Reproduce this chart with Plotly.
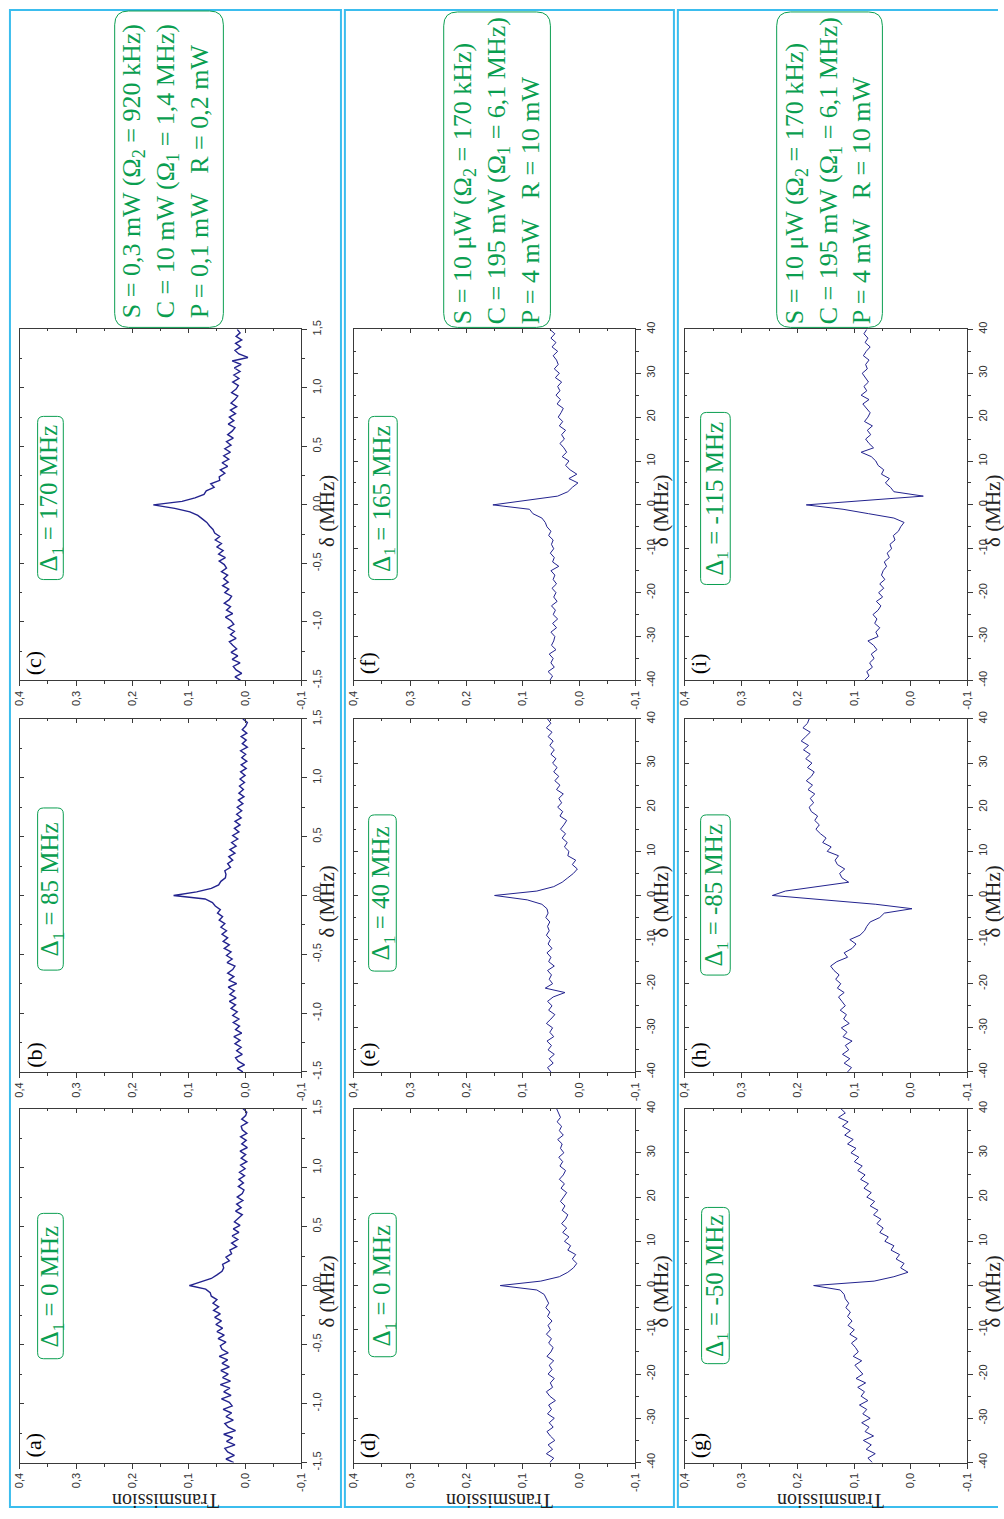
import plotly.graph_objects as go

W, H = 1004, 1519

# detuning sampling: narrow panels -1.5..1.5 MHz (step 0.03), wide panels -40..40 MHz (step 1)
delta_narrow_start, delta_narrow_step = -1.5, 0.03
delta_wide_start, delta_wide_step = -40, 1

# transmission
trans_a = [0.020, 0.034, 0.019, 0.031, 0.036, 0.018, 0.033, 0.022, 0.038, 0.017, 0.030, 0.036, 0.021, 0.034, 0.024, 0.039, 0.023,
           0.028, 0.042, 0.025, 0.038, 0.027, 0.044, 0.026, 0.040, 0.030, 0.043, 0.028, 0.041, 0.031, 0.046, 0.030, 0.041,
           0.044, 0.034, 0.048, 0.037, 0.050, 0.040, 0.052, 0.042, 0.054, 0.044, 0.056, 0.047,
           0.057, 0.050, 0.060, 0.062, 0.070, 0.099,
           0.078, 0.060, 0.050, 0.041, 0.038, 0.040, 0.028, 0.034, 0.024,
           0.027, 0.015, 0.024, 0.013, 0.023, 0.011, 0.021, 0.009, 0.019, 0.012, 0.005, 0.017, 0.007, 0.015, 0.004, 0.014,
           0.005, 0.002, 0.012, 0.003, 0.011, 0.001, 0.010, 0.000,
           0.008, -0.003, 0.007, -0.001, 0.009, -0.004, 0.006, -0.002, 0.008, -0.003, 0.005, 0.007, -0.004, 0.006, -0.001, -0.003, 0.004]
trans_b = [0.004, 0.014, 0.001, 0.012, 0.017, 0.005, 0.015, 0.007, 0.018, 0.009, 0.020, 0.006, 0.017, 0.010, 0.021, 0.011, 0.022,
           0.014, 0.025, 0.017, 0.028, 0.016, 0.027, 0.019, 0.030, 0.015, 0.029, 0.020, 0.031, 0.022, 0.018, 0.032, 0.023,
           0.033, 0.025, 0.037, 0.028, 0.039, 0.031, 0.041, 0.033, 0.043, 0.036, 0.046, 0.040,
           0.049, 0.044, 0.053, 0.058, 0.071, 0.127,
           0.086, 0.060, 0.047, 0.043, 0.035, 0.034, 0.036, 0.026, 0.031,
           0.022, 0.029, 0.018, 0.027, 0.016, 0.024, 0.013, 0.022, 0.011, 0.019, 0.009, 0.018, 0.007, 0.015, 0.006, 0.014,
           0.004, 0.012, 0.002, 0.011, 0.003, 0.010, 0.001, 0.009,
           0.000, 0.008, -0.002, 0.007, -0.003, 0.006, -0.001, 0.008, -0.004, 0.005, -0.002, 0.007, -0.003, 0.005, -0.001, -0.004, 0.004]
trans_c = [0.008, 0.018, 0.006, 0.016, 0.021, 0.009, 0.023, 0.013, 0.025, 0.015, 0.022, 0.028, 0.016, 0.026, 0.019, 0.030, 0.020,
           0.025, 0.035, 0.022, 0.033, 0.026, 0.037, 0.028, 0.024, 0.036, 0.029, 0.040, 0.030, 0.038, 0.031, 0.042, 0.033,
           0.037, 0.046, 0.035, 0.047, 0.039, 0.050, 0.042, 0.053, 0.045,
           0.054, 0.057, 0.063, 0.068, 0.076, 0.084, 0.098, 0.125, 0.163,
           0.112, 0.089, 0.073, 0.069, 0.055, 0.061, 0.045, 0.046,
           0.036, 0.044, 0.031, 0.041, 0.029, 0.038, 0.026, 0.036,
           0.025, 0.033, 0.021, 0.031, 0.023, 0.018, 0.030, 0.020, 0.028, 0.017, 0.026, 0.015, 0.025, 0.018, 0.013, 0.024, 0.016,
           0.012, 0.022, 0.011, 0.020, 0.009, 0.019, 0.007, 0.023, -0.005, 0.011, 0.018, 0.008, 0.017, 0.006, 0.016, 0.009, 0.014]
trans_d = [0.052, 0.045, 0.058, 0.047, 0.055, 0.043, 0.051, 0.057, 0.046, 0.053, 0.044, 0.056, 0.049, 0.054, 0.042, 0.052,
           0.058, 0.047, 0.051, 0.044, 0.055, 0.048, 0.053, 0.045, 0.057, 0.050, 0.046, 0.054, 0.049, 0.058, 0.051, 0.055,
           0.048, 0.056, 0.052, 0.059, 0.054,
           0.058, 0.062, 0.075, 0.140, 0.068, 0.035, 0.020, 0.010, 0.004, 0.012, 0.006, 0.020, 0.015,
           0.026, 0.018, 0.029, 0.022, 0.031, 0.024, 0.020, 0.030, 0.025, 0.033, 0.027, 0.022, 0.032, 0.026, 0.035, 0.028,
           0.024, 0.034, 0.029, 0.036, 0.027, 0.033, 0.030, 0.038, 0.028, 0.035, 0.031, 0.039, 0.033, 0.036, 0.040]
trans_e = [0.050, 0.056, 0.046, 0.053, 0.044, 0.055, 0.049, 0.057, 0.045, 0.052, 0.047, 0.058, 0.050, 0.043, 0.054, 0.048,
           0.056, 0.046, 0.025, 0.060, 0.047, 0.053, 0.049, 0.056, 0.044, 0.054, 0.050, 0.057, 0.048, 0.055, 0.051, 0.058,
           0.053, 0.056, 0.052, 0.059, 0.055,
           0.057, 0.066, 0.092, 0.150, 0.075, 0.045, 0.030, 0.020, 0.010, 0.003, 0.012, 0.006, 0.020,
           0.018, 0.026, 0.021, 0.030, 0.024, 0.033, 0.027, 0.022, 0.034, 0.029, 0.038, 0.031, 0.036, 0.028, 0.040, 0.034,
           0.043, 0.036, 0.045, 0.039, 0.047, 0.041, 0.050, 0.044, 0.052, 0.046, 0.055, 0.048, 0.058, 0.050, 0.056]
trans_f = [0.052, 0.047, 0.055, 0.044, 0.050, 0.046, 0.053, 0.041, 0.049, 0.045, 0.043, 0.050, 0.040, 0.047, 0.038, 0.046,
           0.042, 0.049, 0.039, 0.045, 0.041, 0.048, 0.040, 0.046, 0.043, 0.050, 0.036, 0.047, 0.044, 0.051, 0.045, 0.049,
           0.046, 0.054, 0.050, 0.057, 0.060,
           0.066, 0.082, 0.088, 0.153, 0.095, 0.038, 0.020, 0.012, 0.002, 0.018, 0.004, 0.016, 0.024,
           0.018, 0.030, 0.022, 0.027, 0.034, 0.026, 0.031, 0.024, 0.035, 0.029, 0.037, 0.032, 0.028, 0.039, 0.033, 0.041,
           0.034, 0.038, 0.031, 0.042, 0.035, 0.044, 0.037, 0.040, 0.046, 0.038, 0.048, 0.041, 0.050, 0.043, 0.052]
trans_g = [0.068, 0.076, 0.063, 0.079, 0.070, 0.084, 0.066, 0.081, 0.074, 0.087, 0.072, 0.085, 0.078, 0.091, 0.076, 0.088,
           0.082, 0.094, 0.080, 0.097, 0.085, 0.092, 0.099, 0.087, 0.102, 0.093, 0.098, 0.105, 0.095, 0.108, 0.100, 0.111,
           0.104, 0.112, 0.107, 0.115, 0.110,
           0.116, 0.118, 0.125, 0.172, 0.065, 0.030, 0.005, 0.018, 0.012, 0.026, 0.020, 0.035, 0.030,
           0.046, 0.040, 0.055, 0.049, 0.060, 0.053, 0.066, 0.058, 0.072, 0.064, 0.078, 0.070, 0.083, 0.075, 0.089, 0.081,
           0.094, 0.086, 0.100, 0.092, 0.106, 0.097, 0.112, 0.102, 0.117, 0.107, 0.121, 0.111, 0.128, 0.116, 0.124]
trans_h = [0.112, 0.105, 0.118, 0.108, 0.121, 0.110, 0.116, 0.104, 0.120, 0.113, 0.123, 0.109, 0.119, 0.114, 0.125, 0.116,
           0.122, 0.128, 0.118, 0.130, 0.124, 0.133, 0.127, 0.136, 0.142, 0.131, 0.112, 0.118, 0.104, 0.097, 0.108, 0.090,
           0.082, 0.078, 0.072, 0.055, 0.047,
           -0.002, 0.062, 0.158, 0.245, 0.222, 0.163, 0.110, 0.122, 0.126, 0.117, 0.130, 0.134, 0.128,
           0.148, 0.141, 0.156, 0.150, 0.160, 0.168, 0.162, 0.170, 0.165, 0.176, 0.180, 0.172, 0.178, 0.170, 0.182, 0.174,
           0.185, 0.176, 0.171, 0.183, 0.175, 0.186, 0.178, 0.190, 0.181, 0.194, 0.186, 0.178, 0.191, 0.183, 0.180]
trans_i = [0.082, 0.074, 0.078, 0.068, 0.073, 0.065, 0.070, 0.060, 0.066, 0.076, 0.058, 0.062, 0.055, 0.064, 0.060, 0.067,
           0.058, 0.053, 0.061, 0.050, 0.057, 0.048, 0.055, 0.046, 0.052, 0.049, 0.043, 0.047, 0.038, 0.042, 0.034, 0.037,
           0.028, 0.031, 0.022,
           0.018, 0.012, 0.030, 0.075, 0.120, 0.185, 0.080, -0.022, 0.030, 0.036, 0.045, 0.038, 0.052, 0.048, 0.058,
           0.062, 0.070, 0.088, 0.066, 0.074, 0.080, 0.071, 0.077, 0.068, 0.082, 0.076, 0.072, 0.079, 0.085, 0.074, 0.088,
           0.078, 0.083, 0.075, 0.081, 0.086, 0.077, 0.080, 0.074, 0.084, 0.079, 0.072, 0.081, 0.076, 0.083, 0.078]

panel_names = ["(a)", "(b)", "(c)", "(d)", "(e)", "(f)", "(g)", "(h)", "(i)"]
detunings = ["0", "85", "170", "0", "40", "165", "-50", "-85", "-115"]
series = [trans_a, trans_b, trans_c, trans_d, trans_e, trans_f, trans_g, trans_h, trans_i]

params = [
    "S = 0,3 mW (Ω<sub>2</sub> = 920 kHz)<br>C = 10 mW (Ω<sub>1</sub> = 1,4 MHz)<br>P = 0,1 mW\u00a0\u00a0\u00a0R = 0,2 mW",
    "S = 10 μW (Ω<sub>2</sub> = 170 kHz)<br>C = 195 mW (Ω<sub>1</sub> = 6,1 MHz)<br>P = 4 mW\u00a0\u00a0\u00a0R = 10 mW",
    "S = 10 μW (Ω<sub>2</sub> = 170 kHz)<br>C = 195 mW (Ω<sub>1</sub> = 6,1 MHz)<br>P = 4 mW\u00a0\u00a0\u00a0R = 10 mW",
]

trans_ticks = [0.4, 0.3, 0.2, 0.1, 0.0, -0.1]
trans_ticktext = ["0,4", "0,3", "0,2", "0,1", "0,0", "-0,1"]
trans_minor = [0.35, 0.25, 0.15, 0.05, -0.05]
narrow_ticks = [-1.5, -1.0, -0.5, 0.0, 0.5, 1.0, 1.5]
narrow_ticktext = ["-1,5", "-1,0", "-0,5", "0,0", "0,5", "1,0", "1,5"]
narrow_minor = [-1.25, -0.75, -0.25, 0.25, 0.75, 1.25]
wide_ticks = [-40, -30, -20, -10, 0, 10, 20, 30, 40]
wide_ticktext = ["-40", "-30", "-20", "-10", "0", "10", "20", "30", "40"]
wide_minor = [-35, -25, -15, -5, 5, 15, 25, 35]

TRACE = "#23238e"
GREEN = "#0a9e50"
FRAME = "#3bbdee"
AX = "#3a3a3a"
SERIF = "Liberation Serif"
TICKFONT = dict(family="Liberation Sans", size=11, color="#333333")

# page geometry in pixels (left, right) / (top, bottom)
bands_px = [(14, 299), (352, 637), (687, 973)]
rows_px = [(1112, 1470), (718, 1075), (324, 679)]  # bottom, middle, top
# rounded label boxes: x0, x1, y0, y1 in pixels
delta_boxes = [(32, 58, 1218, 1365), (32, 58, 808, 972), (32, 58, 412, 577),
               (367, 395, 1218, 1363), (367, 395, 815, 973), (367, 396, 412, 577),
               (704, 732, 1212, 1370), (703, 733, 815, 977), (703, 733, 408, 582)]
param_boxes = [(110, 220, 2, 322), (443, 551, 3, 322), (780, 887, 3, 322)]
param_text_x = [161, 496, 832]
band_frames = [(4, 339), (343, 676), (680, 1004)]


def fx(px):
    return px / W


def fy(py):
    return 1 - py / H


def rounded_box(x0, x1, y0, y1, r):
    def p(x, y):
        return f"{fx(x):.5f},{fy(y):.5f}"
    return (f"M {p(x0 + r, y0)} L {p(x1 - r, y0)} Q {p(x1, y0)} {p(x1, y0 + r)} "
            f"L {p(x1, y1 - r)} Q {p(x1, y1)} {p(x1 - r, y1)} "
            f"L {p(x0 + r, y1)} Q {p(x0, y1)} {p(x0, y1 - r)} "
            f"L {p(x0, y0 + r)} Q {p(x0, y0)} {p(x0 + r, y0)} Z")


def note(x, y, text, size, color, angle):
    return dict(x=fx(x), y=fy(y), xref="paper", yref="paper", xanchor="center", yanchor="middle",
                text=text, textangle=angle, showarrow=False,
                font=dict(family=SERIF, size=size, color=color))


fig = go.Figure()
layout = {}
annotations = []
shapes = []

for k in range(9):
    band, row = divmod(k, 3)
    n = k + 1
    xr = "x" if n == 1 else f"x{n}"
    yr = "y" if n == 1 else f"y{n}"
    xo, yo = f"x{n + 9}", f"y{n + 9}"
    left, right = bands_px[band]
    top, bottom = rows_px[row]
    if band > 0:
        y0, dy = delta_wide_start, delta_wide_step
        drange, dticks, dtext, dminor = [-40, 40], wide_ticks, wide_ticktext, wide_minor
        lw = 1.0
    else:
        y0, dy = delta_narrow_start, delta_narrow_step
        drange, dticks, dtext, dminor = [-1.5, 1.5], narrow_ticks, narrow_ticktext, narrow_minor
        lw = 1.4

    fig.add_trace(go.Scatter(x=series[k], y0=y0, dy=dy, xaxis=xr, yaxis=yr, mode="lines",
                             line=dict(color=TRACE, width=lw), showlegend=False, hoverinfo="skip"))
    # empty traces so the inner-tick overlay axes get drawn
    fig.add_trace(go.Scatter(x=[], y=[], xaxis=xo, yaxis=yr, showlegend=False))
    fig.add_trace(go.Scatter(x=[], y=[], xaxis=xr, yaxis=yo, showlegend=False))

    common = dict(showgrid=False, zeroline=False, fixedrange=True)
    layout["xaxis" if n == 1 else f"xaxis{n}"] = dict(
        domain=[fx(left), fx(right)], range=[0.4, -0.1], anchor=yr,
        tickmode="array", tickvals=trans_ticks, ticktext=trans_ticktext, tickangle=-90,
        ticks="outside", ticklen=5, tickcolor=AX, tickfont=TICKFONT,
        minor=dict(tickmode="array", tickvals=trans_minor, ticks="outside", ticklen=3, tickcolor=AX),
        showline=True, linecolor=AX, linewidth=1, mirror=True, **common)
    layout["yaxis" if n == 1 else f"yaxis{n}"] = dict(
        domain=[fy(bottom), fy(top)], range=drange, anchor=xr, side="right",
        tickmode="array", tickvals=dticks, ticktext=dtext, tickangle=-90,
        ticks="outside", ticklen=5, tickcolor=AX, tickfont=TICKFONT,
        minor=dict(tickmode="array", tickvals=dminor, ticks="outside", ticklen=3, tickcolor=AX),
        showline=True, linecolor=AX, linewidth=1, mirror=True, **common)
    layout[f"xaxis{n + 9}"] = dict(
        overlaying=xr, side="top", anchor=yr, range=[0.4, -0.1],
        tickmode="array", tickvals=trans_ticks, ticks="inside", ticklen=4, tickcolor=AX, showticklabels=False,
        minor=dict(tickmode="array", tickvals=trans_minor, ticks="inside", ticklen=2, tickcolor=AX),
        showline=False, **common)
    layout[f"yaxis{n + 9}"] = dict(
        overlaying=yr, side="left", anchor=xr, range=drange,
        tickmode="array", tickvals=dticks, ticks="inside", ticklen=4, tickcolor=AX, showticklabels=False,
        minor=dict(tickmode="array", tickvals=dminor, ticks="inside", ticklen=2, tickcolor=AX),
        showline=False, **common)

    mid = (top + bottom) / 2
    annotations.append(note(left + 14, bottom - 17, panel_names[k], 22, "black", -90))
    bx0, bx1, by0, by1 = delta_boxes[k]
    shapes.append(dict(type="path", xref="paper", yref="paper", path=rounded_box(bx0, bx1, by0, by1, 6),
                       line=dict(color=GREEN, width=1), fillcolor="white", layer="above"))
    annotations.append(note((bx0 + bx1) / 2 + 1, (by0 + by1) / 2, f"Δ<sub>1</sub> = {detunings[k]} MHz", 25, GREEN, -90))
    annotations.append(note(right + 26, mid + 6, "δ (MHz)", 21, "#222222", -90))
    if row == 0:
        annotations.append(note(left + 148, 1509, "Transmission", 20, "#222222", 180))

for band in range(3):
    bx0, bx1, by0, by1 = param_boxes[band]
    shapes.append(dict(type="path", xref="paper", yref="paper", path=rounded_box(bx0, bx1, by0, by1, 14),
                       line=dict(color=GREEN, width=1), fillcolor="white", layer="above"))
    a = note(param_text_x[band], 164, params[band], 26, GREEN, -90)
    a["align"] = "left"
    annotations.append(a)

# light-blue frames round each column of panels (the last one runs off the right edge)
for a, b in band_frames:
    x0, x1, yt, yb = fx(a), fx(b), fy(1), fy(1515)
    if b >= W:
        path = f"M {x1},{yt} L {x0},{yt} L {x0},{yb} L {x1},{yb}"
    else:
        path = f"M {x0},{yt} L {x1},{yt} L {x1},{yb} L {x0},{yb} Z"
    shapes.append(dict(type="path", xref="paper", yref="paper", path=path,
                       line=dict(color=FRAME, width=2), layer="below"))

fig.update_layout(**layout)
fig.update_layout(width=W, height=H, autosize=False, margin=dict(l=0, r=0, t=0, b=0),
                  paper_bgcolor="white", plot_bgcolor="white", showlegend=False,
                  annotations=annotations, shapes=shapes, separators=",.")

fig.write_html("out.html", config={"displayModeBar": False},
               post_script="document.body.style.margin='0';document.documentElement.style.overflow='hidden';")
